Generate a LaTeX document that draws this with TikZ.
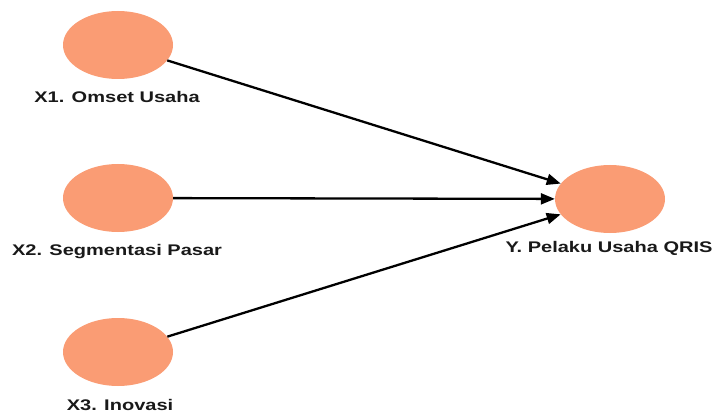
\documentclass[tikz,border=0pt]{standalone}
\usepackage{fontspec}
\setmainfont{Liberation Sans}[FakeStretch=1.3]
\usetikzlibrary{shapes.geometric,arrows.meta}
\definecolor{lv}{RGB}{250,156,116}
\tikzset{
  latent/.style={ellipse, fill=lv, draw=none, minimum width=110pt, minimum height=68pt, inner sep=0pt},
  lbl/.style={font=\fontsize{15.4}{18}\selectfont\bfseries, text=black!90, inner sep=0pt},
  path/.style={line width=2.3pt, draw=black, -{Triangle[length=14pt,width=11pt]}}
}
\begin{document}
\begin{tikzpicture}[x=1pt,y=-1pt]
\useasboundingbox (0,0) rectangle (717,414);
\node[latent] (x1) at (118,45) {};
\node[latent] (x2) at (118,198) {};
\node[latent] (x3) at (118,352) {};
\node[latent] (y) at (610,199) {};
\node[lbl] (l1) at (117,97) {X1. Omset Usaha};
\node[lbl] (l2) at (117,252) {X2. Segmentasi Pasar};
\node[lbl] (l3) at (120,405) {X3. Inovasi};
\node[lbl] (ly) at (609,248) {Y. Pelaku Usaha QRIS};
\draw[path] (x1) -- (y);
\draw[path] (x2) -- (y);
\draw[path] (x3) -- (y);
\end{tikzpicture}
\end{document}
